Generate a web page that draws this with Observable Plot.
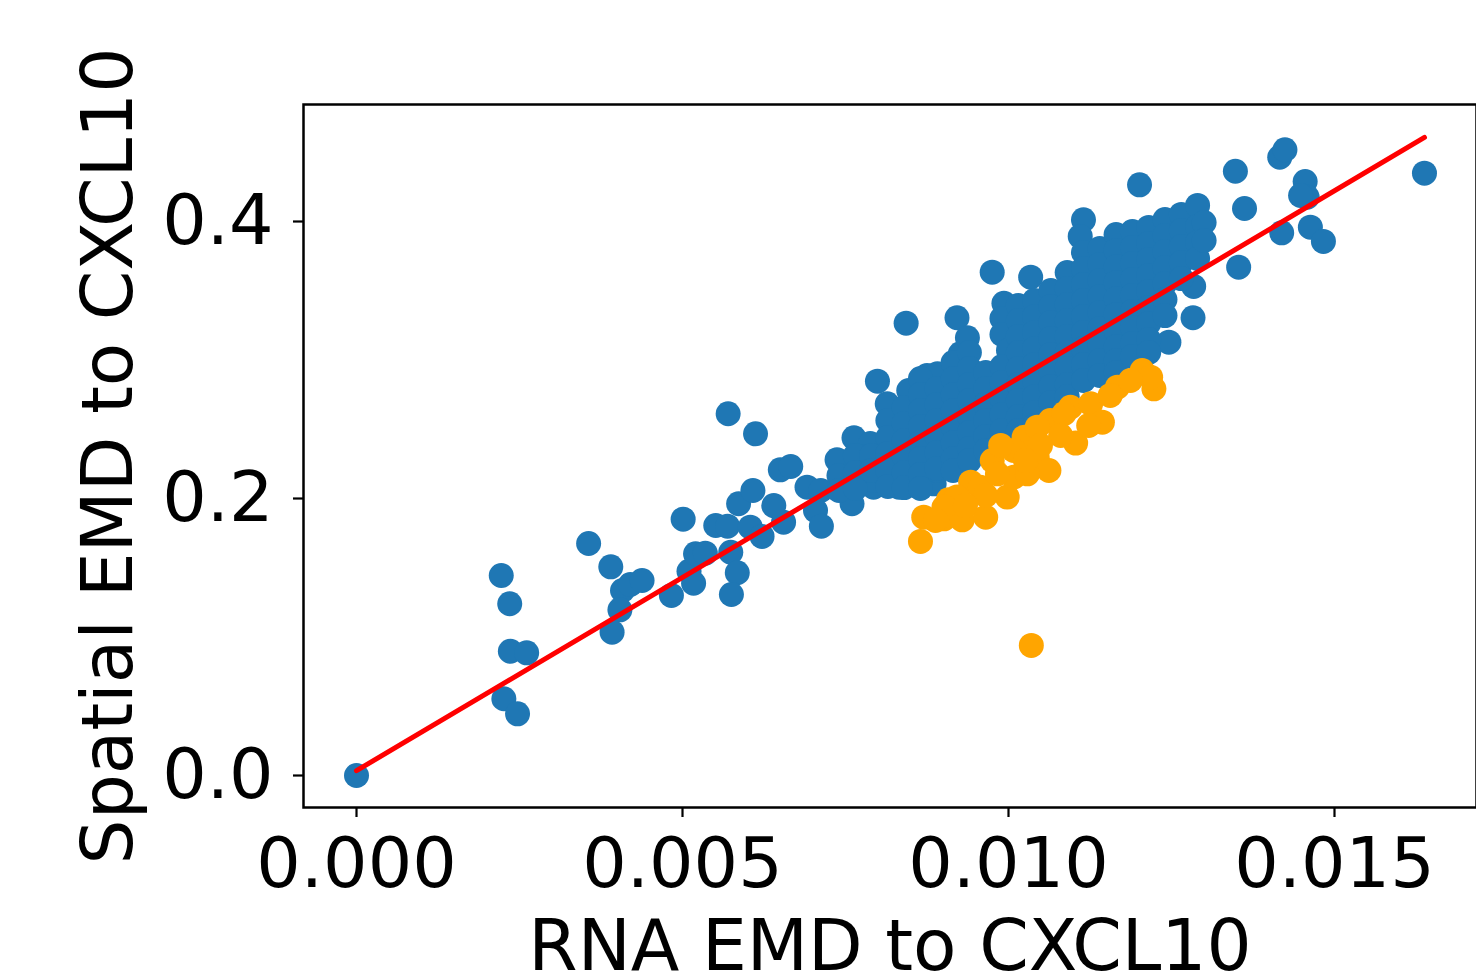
<!DOCTYPE html>
<html><head><meta charset="utf-8">
<script src="https://cdn.jsdelivr.net/npm/d3@7"></script>
<script src="https://cdn.jsdelivr.net/npm/@observablehq/plot@0.6"></script>
<style>body{margin:0;background:#fff;}</style>
</head><body><div id="chart"></div>
<script>
// Blue genes (outlying / sparse points)
const blueSparse = [
  [0, 0], [0.00222, 0.1444], [0.00235, 0.1240], [0.00236, 0.0897], [0.00261, 0.0886],
  [0.00226, 0.0554], [0.00247, 0.0445], [0.00356, 0.1675], [0.00390, 0.1507], [0.00408, 0.1336],
  [0.00420, 0.1379], [0.00438, 0.1408], [0.00404, 0.1196], [0.00392, 0.1035], [0.00483, 0.1300],
  [0.00501, 0.1851], [0.00510, 0.1475], [0.00517, 0.1388], [0.00520, 0.1601], [0.00535, 0.1605],
  [0.00551, 0.1805], [0.00569, 0.1800], [0.00574, 0.1612], [0.00584, 0.1464], [0.00575, 0.1307],
  [0.00570, 0.2612], [0.00612, 0.2467], [0.00586, 0.1962], [0.00608, 0.2058], [0.00604, 0.1793],
  [0.00622, 0.1726], [0.00650, 0.2207], [0.00666, 0.2231], [0.00655, 0.1829], [0.00640, 0.1949],
  [0.00691, 0.2082], [0.00712, 0.2058], [0.00704, 0.1913], [0.00713, 0.1800], [0.00737, 0.2279],
  [0.00760, 0.1962], [0.00763, 0.2438], [0.00788, 0.2397], [0.00793, 0.2082],
  [0.00799, 0.2847], [0.00814, 0.2684], [0.00847, 0.2780], [0.00875, 0.2888], [0.00891, 0.2900],
  [0.00832, 0.2082], [0.00886, 0.2106], [0.00891, 0.2202], [0.00926, 0.2274], [0.00819, 0.2178],
  [0.00778, 0.2298], [0.00794, 0.2130], [0.00926, 0.3045], [0.00975, 0.3634], [0.01034, 0.3598],
  [0.00843, 0.3266], [0.00921, 0.3305], [0.00937, 0.3160], [0.00993, 0.3410], [0.01284, 0.3531],
  [0.01283, 0.3305], [0.01246, 0.3129], [0.01353, 0.3670], [0.01201, 0.4265], [0.01348, 0.4363],
  [0.01416, 0.4464], [0.01424, 0.4518], [0.01362, 0.4094], [0.01455, 0.4289], [0.01458, 0.4176],
  [0.01448, 0.4188], [0.01419, 0.3918], [0.01463, 0.3959], [0.01483, 0.3856], [0.01638, 0.4349],
  [0.01115, 0.4012], [0.01110, 0.3892]
];

// Blue genes in the dense main cluster
const blueCluster = [
  [0.00740, 0.2166], [0.00740, 0.2058],
  [0.00765, 0.2310], [0.00765, 0.2188], [0.00765, 0.2072],
  [0.00790, 0.2310], [0.00790, 0.2202],
  [0.00815, 0.2563], [0.00815, 0.2440], [0.00815, 0.2325], [0.00815, 0.2202], [0.00815, 0.2087],
  [0.00840, 0.2657], [0.00840, 0.2542], [0.00840, 0.2419], [0.00840, 0.2303], [0.00840, 0.2188], [0.00840, 0.2079],
  [0.00865, 0.2866], [0.00865, 0.2751], [0.00865, 0.2635], [0.00865, 0.2520], [0.00865, 0.2404], [0.00865, 0.2289], [0.00865, 0.2173], [0.00865, 0.2072],
  [0.00890, 0.2794], [0.00890, 0.2679], [0.00890, 0.2563], [0.00890, 0.2448], [0.00890, 0.2332], [0.00890, 0.2217],
  [0.00915, 0.2982], [0.00915, 0.2866], [0.00915, 0.2751], [0.00915, 0.2635], [0.00915, 0.2520], [0.00915, 0.2404], [0.00915, 0.2289], [0.00915, 0.2202],
  [0.00940, 0.3054], [0.00940, 0.2939], [0.00940, 0.2823], [0.00940, 0.2708], [0.00940, 0.2592], [0.00940, 0.2477], [0.00940, 0.2361], [0.00940, 0.2274],
  [0.00965, 0.2910], [0.00965, 0.2794], [0.00965, 0.2679], [0.00965, 0.2563], [0.00965, 0.2448], [0.00965, 0.2346],
  [0.00990, 0.3300], [0.00990, 0.3184], [0.01000, 0.3069], [0.00990, 0.2953], [0.00990, 0.2838], [0.00990, 0.2722], [0.00990, 0.2606], [0.00990, 0.2491], [0.00990, 0.2390],
  [0.01015, 0.3394], [0.01015, 0.3285], [0.01015, 0.3170], [0.01015, 0.3054], [0.01015, 0.2939], [0.01015, 0.2823], [0.01015, 0.2708], [0.01015, 0.2592], [0.01015, 0.2491],
  [0.01040, 0.3430], [0.01040, 0.3314], [0.01040, 0.3199], [0.01040, 0.3083], [0.01040, 0.2968], [0.01040, 0.2852], [0.01040, 0.2736], [0.01040, 0.2621], [0.01040, 0.2527],
  [0.01065, 0.3502], [0.01065, 0.3386], [0.01065, 0.3271], [0.01065, 0.3155], [0.01065, 0.3040], [0.01065, 0.2924], [0.01065, 0.2809], [0.01065, 0.2693],
  [0.01090, 0.3632], [0.01090, 0.3516], [0.01090, 0.3401], [0.01090, 0.3285], [0.01090, 0.3170], [0.01090, 0.3054], [0.01090, 0.2939], [0.01090, 0.2823], [0.01090, 0.2736],
  [0.01115, 0.3776], [0.01115, 0.3661], [0.01115, 0.3545], [0.01115, 0.3430], [0.01115, 0.3314], [0.01115, 0.3199], [0.01115, 0.3083], [0.01115, 0.2968], [0.01115, 0.2852],
  [0.01140, 0.3805], [0.01140, 0.3690], [0.01140, 0.3574], [0.01140, 0.3458], [0.01140, 0.3343], [0.01140, 0.3227], [0.01140, 0.3112], [0.01140, 0.2996], [0.01140, 0.2888],
  [0.01165, 0.3906], [0.01165, 0.3791], [0.01165, 0.3675], [0.01165, 0.3560], [0.01165, 0.3444], [0.01165, 0.3329], [0.01165, 0.3213], [0.01165, 0.3097], [0.01165, 0.2996], [0.01165, 0.2910],
  [0.01190, 0.3928], [0.01190, 0.3812], [0.01190, 0.3697], [0.01190, 0.3581], [0.01190, 0.3466], [0.01190, 0.3350], [0.01190, 0.3235], [0.01190, 0.3119], [0.01190, 0.3025],
  [0.01215, 0.3957], [0.01215, 0.3841], [0.01215, 0.3726], [0.01215, 0.3610], [0.01215, 0.3495], [0.01215, 0.3379], [0.01215, 0.3264], [0.01215, 0.3148], [0.01215, 0.3054],
  [0.01240, 0.4014], [0.01240, 0.3899], [0.01240, 0.3783], [0.01240, 0.3668], [0.01240, 0.3552], [0.01240, 0.3437], [0.01240, 0.3321],
  [0.01265, 0.4051], [0.01265, 0.3935], [0.01265, 0.3819], [0.01265, 0.3704], [0.01265, 0.3588],
  [0.01290, 0.4116], [0.01290, 0.3964], [0.01290, 0.3848], [0.01290, 0.3733],
  [0.01300, 0.3993], [0.01300, 0.3863]
];

// Orange (highlighted) genes
const orangePoints = [
  [0.00865, 0.1690], [0.00870, 0.1865], [0.00901, 0.1853], [0.00908, 0.1991], [0.00929, 0.1846],
  [0.00942, 0.2118], [0.00965, 0.1865], [0.00975, 0.2274], [0.00998, 0.2010], [0.01024, 0.2443],
  [0.01008, 0.2154], [0.01044, 0.2298], [0.01062, 0.2202], [0.01064, 0.2563], [0.01103, 0.2400],
  [0.01095, 0.2659], [0.01126, 0.2684], [0.01144, 0.2551], [0.01167, 0.2804], [0.01205, 0.2924],
  [0.01223, 0.2792], [0.01218, 0.2876], [0.01044, 0.2515], [0.01008, 0.2347], [0.01029, 0.2178],
  [0.00957, 0.2082], [0.00921, 0.2010], [0.00901, 0.1937], [0.00983, 0.2178], [0.01085, 0.2612],
  [0.01123, 0.2527], [0.01080, 0.2455], [0.01156, 0.2744], [0.01187, 0.2852], [0.00988, 0.2383],
  [0.01049, 0.2383], [0.00965, 0.2022], [0.00934, 0.1949], [0.00888, 0.1841], [0.01026, 0.2274],
  [0.01035, 0.0939]
];

// Fitted regression line (end points)
const fitX = [0, 0.01638];
const fitY = [0.0035, 0.4607];

const xTicks = [0, 0.005, 0.010, 0.015];
const yTicks = [0.0, 0.2, 0.4];
const xLabel = "RNA EMD to CXCL10";
const yLabel = "Spatial EMD to CXCL10";

const toRows = arr => arr.map(([x, y]) => ({x, y}));
const blue = toRows(blueSparse.concat(blueCluster));
const orange = toRows(orangePoints);
const fit = fitX.map((x, i) => ({x, y: fitY[i]}));

const chart = Plot.plot({
  width: 1476,
  height: 978,
  marginLeft: 303,
  marginRight: 0,
  marginTop: 104,
  marginBottom: 171,
  style: {fontFamily: "DejaVu Sans", fontSize: "70px", background: "white", overflow: "visible"},
  x: {domain: [-0.000813, 0.017178]},
  y: {domain: [-0.0231, 0.48448]},
  marks: [
    Plot.dot(blue, {x: "x", y: "y", r: 12.5, fill: "#1f77b4"}),
    Plot.dot(orange, {x: "x", y: "y", r: 12.5, fill: "#ffa500"}),
    Plot.line(fit, {x: "x", y: "y", stroke: "#ff0000", strokeWidth: 5, strokeLinecap: "round"}),
    Plot.frame({stroke: "black", strokeWidth: 2.5}),
    Plot.axisX({ticks: xTicks, tickFormat: d3.format(".3f"), tickSize: 10, tickPadding: 20, strokeWidth: 2.2, fontSize: 70, label: null}),
    Plot.axisY({ticks: yTicks, tickFormat: d3.format(".1f"), tickSize: 10, tickPadding: 20, strokeWidth: 2.2, fontSize: 70, label: null}),
    Plot.text([xLabel], {text: d => d, frameAnchor: "bottom", textAnchor: "middle", lineAnchor: "middle", dy: 140, fontSize: 71}),
    Plot.text([yLabel], {text: d => d, frameAnchor: "left", textAnchor: "middle", lineAnchor: "middle", rotate: -90, dx: -194, fontSize: 71})
  ]
});
document.getElementById("chart").appendChild(chart);
</script>
</body></html>
